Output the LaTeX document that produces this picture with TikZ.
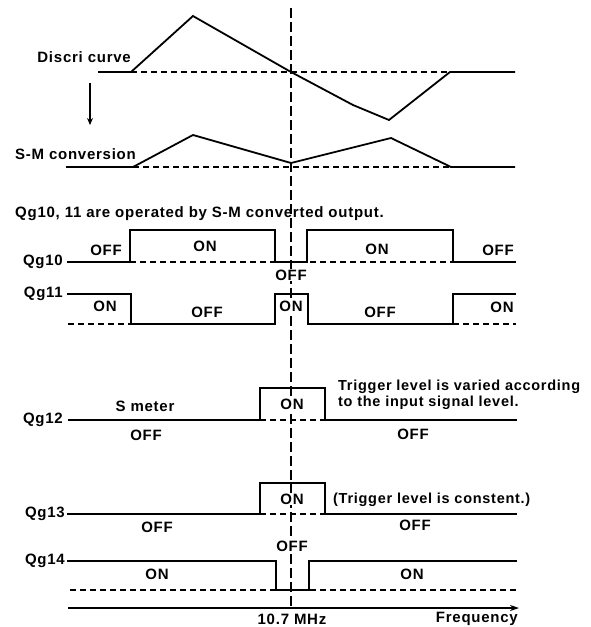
\documentclass[tikz,border=0pt]{standalone}
\usepackage{fontspec}
\setmainfont{Liberation Sans}[LetterSpace=5]
\usetikzlibrary{arrows.meta}
\begin{document}
\begin{tikzpicture}[x=1pt,y=-1pt,
  sig/.style={line width=1.8pt, line join=miter},
  base/.style={line width=1.4pt, dash pattern=on 6pt off 4pt},
  vline/.style={line width=1.3pt, dash pattern=on 10pt off 4pt},
  lbl/.style={font=\fontsize{15}{17}\selectfont\bfseries, inner sep=1pt},
  note/.style={font=\fontsize{14.5}{16}\selectfont\bfseries, inner sep=1pt},
  lblw/.style={lbl, fill=white},
  lblL/.style={lbl, anchor=west},
  lblR/.style={lbl, anchor=east}]
\useasboundingbox (0,0) rectangle (591,627);
% centre line at 10.7 MHz
\coordinate (vtop) at (291,8);
\coordinate (vbot) at (291,606);
\draw[vline] (vtop) -- (vbot);

% Discri curve
\node[lblR] (discri) at (132,57) {Discri curve};
\draw[base] (131,72) -- (450,72);
\draw[sig] (98,72) -- (131,72) -- (193,16) -- (291,72) -- (353,105) -- (389,120) -- (450,72) -- (515,72);
\coordinate (arA) at (90,83);
\coordinate (arB) at (90,125);
\draw[line width=1.5pt, -{Stealth[length=7pt,width=6pt]}] (arA) -- (arB);

% S-M conversion
\node[lblR] (smconv) at (137,154) {S-M conversion};
\draw[base] (133,167) -- (451,167);
\draw[sig] (66,167) -- (133,167) -- (193,135) -- (291,163) -- (391,138) -- (451,167) -- (515,167);

\node[lblL] (notetext) at (14,214) {Qg10, 11 are operated by S-M converted output.};

% Qg10
\node[lblR] (q10) at (64,262) {Qg10};
\draw[base] (130,262) -- (453,262);
\draw[sig] (67,262) -- (130,262) -- (130,230) -- (275,230) -- (275,262) -- (307,262) -- (307,230) -- (453,230) -- (453,262) -- (516,262);
\node[lbl] (q10a) at (106,250) {OFF};
\node[lbl] (q10b) at (205,246) {ON};
\node[lblw] (q10c) at (291,275) {OFF};
\node[lbl] (q10d) at (377,249) {ON};
\node[lbl] (q10e) at (498,250) {OFF};

% Qg11
\node[lblR] (q11) at (64,294) {Qg11};
\draw[base] (68,324) -- (131,324);
\draw[base] (453,324) -- (516,324);
\draw[sig] (67,294) -- (131,294) -- (131,324) -- (275,324) -- (275,294) -- (308,294) -- (308,324) -- (453,324) -- (453,294) -- (516,294);
\node[lbl] (q11a) at (105,306) {ON};
\node[lbl] (q11b) at (207,312) {OFF};
\node[lblw, inner sep=0.5pt] (q11c) at (291,306) {ON};
\node[lbl] (q11d) at (380,312) {OFF};
\node[lbl] (q11e) at (502,307) {ON};

% Qg12
\node[lblR] (q12) at (64,420) {Qg12};
\draw[base] (260,420) -- (325,420);
\draw[sig] (68,420) -- (260,420) -- (260,388) -- (325,388) -- (325,420) -- (517,420);
\node[lbl] (smeter) at (145,406) {S meter};
\node[lbl] (q12a) at (146,435) {OFF};
\node[lblw] (q12b) at (292,404) {ON};
\node[lbl] (q12c) at (413,434) {OFF};
\node[note, anchor=north west, align=left] (trig) at (337,379) {Trigger level is varied according\\to the input signal level.};

% Qg13
\node[lblR] (q13) at (66,514) {Qg13};
\draw[base] (260,514) -- (325,514);
\draw[sig] (67,514) -- (260,514) -- (260,483) -- (325,483) -- (325,514) -- (517,514);
\node[lblw] (q13a) at (292,499) {ON};
\node[note, anchor=west] (const) at (332,500) {(Trigger level is constent.)};
\node[lbl] (q13b) at (157,527) {OFF};
\node[lbl] (q13c) at (415,525) {OFF};

% Qg14
\node[lblR] (q14) at (66,561) {Qg14};
\draw[base] (70,590) -- (518,590);
\draw[sig] (67,561) -- (276,561) -- (276,590) -- (309,590) -- (309,561) -- (517,561);
\node[lblw] (q14a) at (292,546) {OFF};
\node[lbl] (q14b) at (157,574) {ON};
\node[lbl] (q14c) at (412,574) {ON};

% frequency axis
\coordinate (axA) at (68,608);
\coordinate (axB) at (519,608);
\draw[line width=1.6pt, -{Stealth[length=9pt,width=6pt]}] (axA) -- (axB);
\node[lbl] (mhz) at (292,619) {10.7 MHz};
\node[lblR] (freq) at (519,619) {Frequency};
\end{tikzpicture}
\end{document}
